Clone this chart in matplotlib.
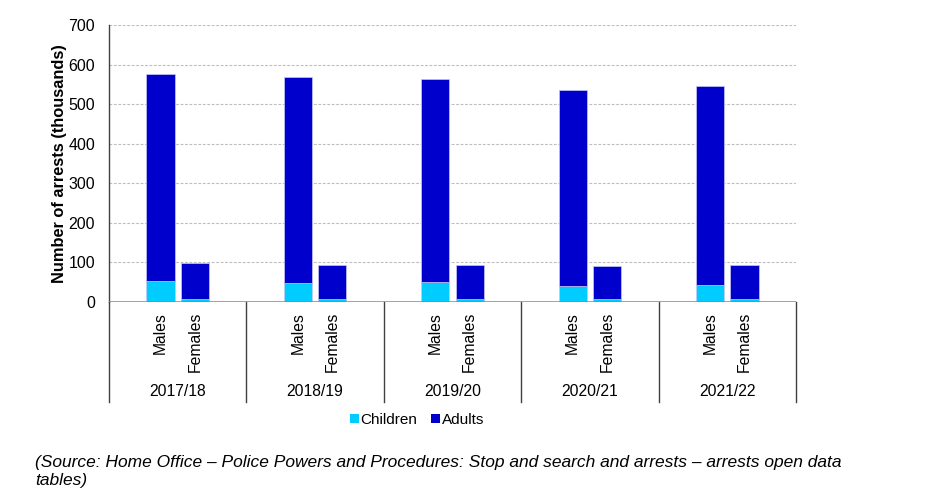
import matplotlib
matplotlib.use("Agg")
import matplotlib.pyplot as plt
import matplotlib.transforms as mtransforms
from matplotlib.patches import Patch

years = ["2017/18", "2018/19", "2019/20", "2020/21", "2021/22"]
sexes = ["Males", "Females"]
males_children = [52, 48, 50, 41, 44]
males_adults = [525, 521, 514, 495, 503]
females_children = [8, 8, 8, 7, 7]
females_adults = [90, 86, 86, 85, 87]
yticks = [0, 100, 200, 300, 400, 500, 600, 700]

c_child = "#00CCFF"
c_adult = "#0000CC"

plt.rcParams['font.family'] = ['Liberation Sans', 'DejaVu Sans']

fig = plt.figure(figsize=(9.28, 5.04), dpi=100)
ax = fig.add_axes([109/928, 1-302/504, (796-109)/928, (302-25)/504])

xs = list(range(len(years)))
off = 0.125
w = 0.205
mx = [x - off for x in xs]
fx = [x + off for x in xs]
ec = "#c8c8f4"
ax.bar(mx, males_children, w, color=c_child, edgecolor=ec, linewidth=0.5, zorder=3)
ax.bar(mx, males_adults, w, bottom=males_children, color=c_adult, edgecolor=ec, linewidth=0.5, zorder=3)
ax.bar(fx, females_children, w, color=c_child, edgecolor=ec, linewidth=0.5, zorder=3)
ax.bar(fx, females_adults, w, bottom=females_children, color=c_adult, edgecolor=ec, linewidth=0.5, zorder=3)

ax.set_xlim(-0.5, len(years) - 0.5)
ax.set_ylim(0, 700)
ax.set_yticks(yticks)
ax.set_yticklabels([str(t) for t in yticks], fontsize=11.5)
ax.tick_params(axis='y', length=0, pad=10)
ax.set_xticks([])
for t in yticks[1:]:
    ax.axhline(t, color="#bdbdbd", linestyle=(0, (2.5, 1.5)), linewidth=0.8, zorder=1)

for s in ["top", "right", "bottom"]:
    ax.spines[s].set_visible(False)
ax.spines["left"].set_color("#404040")
ax.spines["left"].set_linewidth(1.0)
ax.axhline(0, color="#888888", linewidth=1.8, zorder=4)

trans = mtransforms.blended_transform_factory(ax.transData, ax.transAxes)
ext = -100/277
for b in [x - 0.5 for x in xs] + [len(years) - 0.5]:
    ax.plot([b, b], [0, ext], transform=trans, color="#404040", linewidth=1.0, clip_on=False)

for i, y in enumerate(years):
    ax.text(mx[i], -10/277, sexes[0], transform=trans, rotation=90, ha='center', va='top', fontsize=11.3)
    ax.text(fx[i], -10/277, sexes[1], transform=trans, rotation=90, ha='center', va='top', fontsize=11.3)
    ax.text(xs[i], -90/277, y, transform=trans, ha='center', va='center', fontsize=11.3)

ax.set_ylabel("Number of arrests (thousands)", fontsize=11.8, fontweight='bold', labelpad=1)

handles = [Patch(facecolor=c_child, label="Children"), Patch(facecolor=c_adult, label="Adults")]
fig.legend(handles=handles, loc='center', bbox_to_anchor=(417/928, 1-420/504), ncol=2,
           frameon=False, fontsize=11, handlelength=0.6, handleheight=0.6,
           handletextpad=0.1, columnspacing=0.9)

fig.text(35/928, 1-462/504, "(Source: Home Office \u2013 Police Powers and Procedures: Stop and search and arrests \u2013 arrests open data",
         fontsize=12.5, style='italic', va='center', ha='left')
fig.text(35/928, 1-481/504, "tables)", fontsize=12.5, style='italic', va='center', ha='left')

fig.savefig("out.png", dpi=100)
